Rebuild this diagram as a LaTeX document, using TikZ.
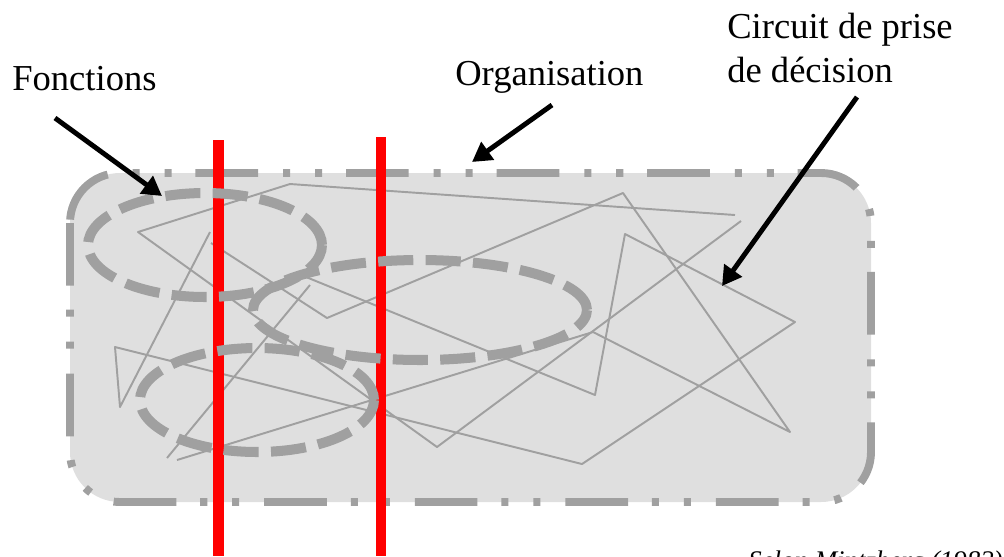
\documentclass[tikz,border=0pt]{standalone}
\usepackage{fontspec}
\setmainfont{Liberation Serif}
\usetikzlibrary{arrows.meta}
\definecolor{grisfond}{HTML}{DFDFDF}
\definecolor{grisligne}{HTML}{A0A0A0}
\tikzset{
  cadre/.style={draw=grisligne, fill=grisfond, line width=4.5pt, rounded corners=1cm,
    dash pattern=on 35.7pt off 13.6pt on 4pt off 14.2pt on 4pt off 14.2pt},
  circuit/.style={draw=grisligne, line width=1.1pt, line join=round},
  fonction/.style={draw=grisligne, line width=5.7pt, dash pattern=on 20pt off 7pt},
  coupure/.style={draw=red, line width=6pt},
  fleche/.style={draw=black, line width=2.8pt, -{Triangle[length=11pt,width=12pt]}},
  etiquette/.style={font=\fontsize{20.8}{25}\selectfont, inner sep=0pt, anchor=base west, align=left}
}
\begin{document}
\begin{tikzpicture}[x=0.02cm, y=-0.02cm]
\clip (0,0) rectangle (1004,556);
\draw[cadre](70,173) rectangle (871,502);
% circuit de prise de decision
\draw[circuit](735,215)--(290,184)--(138,232)--(437,447)--(741,221);
\draw[circuit](210,232)--(120,407)--(115,347)--(582,464)--(795,322)--(625,234)--(595,395)--(306,277);
\draw[circuit](211,243)--(327,318)--(623,193)--(790,432)--(593,332)--(177,460);
\draw[circuit](167,458)--(310,285);
% coupures
\draw[coupure](218.5,140)--(218.5,556);
\draw[coupure](381,137)--(381,556);
% fonctions
\draw[fonction](205,245) ellipse [x radius=2.34cm, y radius=1.04cm];
\draw[fonction](420,310) ellipse [x radius=3.34cm, y radius=1.0cm];
\draw[fonction](257,400) ellipse [x radius=2.34cm, y radius=1.04cm];
% textes
\node[etiquette] (fonctions) at (12,90) {Fonctions};
\node[etiquette] (organisation) at (455,85) {Organisation};
\node[etiquette] (circuit) at (727,82) {Circuit de prise\\de décision};
\node[font=\fontsize{15.3}{18}\selectfont\itshape, inner sep=0pt, anchor=base west] (source) at (748,569) {Selon Mintzberg (1982)};
% fleches
\coordinate (fonctions-debut) at (55,118);
\coordinate (fonctions-fin) at (162,196);
\coordinate (organisation-debut) at (552,105);
\coordinate (organisation-fin) at (472,162);
\coordinate (circuit-debut) at (857,97);
\coordinate (circuit-fin) at (722,286);
\draw[fleche](fonctions-debut)--(fonctions-fin);
\draw[fleche](organisation-debut)--(organisation-fin);
\draw[fleche](circuit-debut)--(circuit-fin);
\end{tikzpicture}
\end{document}
